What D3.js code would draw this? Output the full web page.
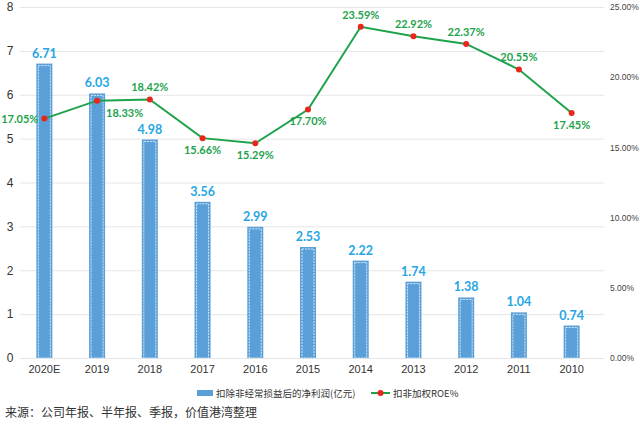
<!DOCTYPE html>
<html>
<head>
<meta charset="utf-8">
<script src="https://cdn.jsdelivr.net/npm/d3@7"></script>
<style>
  body { margin: 0; background: #fff; }
  svg { font-family: "Noto Sans CJK SC", "Noto Sans", sans-serif; }
</style>
</head>
<body>
<div id="chart"></div>
<script>
var years = ["2020E", "2019", "2018", "2017", "2016", "2015", "2014", "2013", "2012", "2011", "2010"];
var profit = [6.71, 6.03, 4.98, 3.56, 2.99, 2.53, 2.22, 1.74, 1.38, 1.04, 0.74];
var roe = [17.05, 18.33, 18.42, 15.66, 15.29, 17.70, 23.59, 22.92, 22.37, 20.55, 17.45];
// where each ROE label sits relative to its point
var roePos = ["left", "belowRight", "above", "below", "below", "below", "above", "above", "above", "above", "below"];
var leftTicks = [0, 1, 2, 3, 4, 5, 6, 7, 8];
var rightTicks = [0, 5, 10, 15, 20, 25];

(function() {
  var width = 640, height = 426;
  var plotLeft = 18, plotRight = 598, plotTop = 7, plotBottom = 358;

  var svg = d3.select("#chart").append("svg")
    .attr("width", width)
    .attr("height", height);

  var x = d3.scaleBand().domain(years).range([plotLeft, plotRight]);
  var y = d3.scaleLinear().domain([0, 8]).range([plotBottom, plotTop]);
  var y2 = d3.scaleLinear().domain([0, 25]).range([plotBottom, plotTop]);

  // grid
  svg.append("g").selectAll("line")
    .data(leftTicks)
    .enter().append("line")
    .attr("x1", 20).attr("x2", 604)
    .attr("y1", d => y(d) + 0.5).attr("y2", d => y(d) + 0.5)
    .attr("stroke", "#e6e6e6");

  // left axis
  var yAxis = d3.axisLeft(y).tickValues(leftTicks).tickSize(0).tickPadding(0);
  svg.append("g")
    .attr("transform", "translate(10,0)")
    .call(yAxis)
    .call(g => g.select(".domain").remove())
    .selectAll("text")
    .attr("font-size", 12).attr("fill", "#333").attr("text-anchor", "middle");

  // right axis
  var y2Axis = d3.axisRight(y2).tickValues(rightTicks).tickSize(0).tickPadding(0)
    .tickFormat(d => d.toFixed(2) + "%");
  svg.append("g")
    .attr("transform", "translate(610,0)")
    .call(y2Axis)
    .call(g => g.select(".domain").remove())
    .selectAll("text")
    .attr("font-size", 8.5).attr("fill", "#444");

  // x axis
  var xAxis = d3.axisBottom(x).tickSize(0).tickPadding(0);
  svg.append("g")
    .attr("transform", "translate(0," + (plotBottom + 7) + ")")
    .call(xAxis)
    .call(g => g.select(".domain").remove())
    .selectAll("text")
    .attr("font-size", 11).attr("fill", "#333");

  // bars
  var bw = 16;
  var bars = svg.append("g").selectAll("g")
    .data(profit)
    .enter().append("g");

  bars.append("rect")
    .attr("x", (d, i) => x(years[i]) + x.bandwidth() / 2 - bw / 2)
    .attr("y", d => y(d))
    .attr("width", bw)
    .attr("height", d => plotBottom - y(d))
    .attr("fill", "#5b9fd8");

  bars.append("rect")
    .attr("x", (d, i) => x(years[i]) + x.bandwidth() / 2 - bw / 2 + 2)
    .attr("y", d => y(d) + 2)
    .attr("width", bw - 4)
    .attr("height", d => plotBottom - y(d) - 2)
    .attr("fill", "none")
    .attr("stroke", "#cfe6f7")
    .attr("stroke-width", 1)
    .attr("stroke-dasharray", "2,1");

  bars.append("text")
    .attr("x", (d, i) => x(years[i]) + x.bandwidth() / 2)
    .attr("y", d => y(d) - 6)
    .attr("text-anchor", "middle")
    .attr("font-family", "Lato")
    .attr("font-size", 12.5)
    .attr("font-weight", "bold")
    .attr("fill", "#26a6e4")
    .text(d => d.toFixed(2));

  // ROE line
  var cx = (d, i) => x(years[i]) + x.bandwidth() / 2;
  var line = d3.line()
    .x((d, i) => cx(d, i))
    .y(d => y2(d));

  svg.append("path")
    .datum(roe)
    .attr("d", line)
    .attr("fill", "none")
    .attr("stroke", "#1ea34d")
    .attr("stroke-width", 2);

  svg.append("g").selectAll("circle")
    .data(roe)
    .enter().append("circle")
    .attr("cx", cx)
    .attr("cy", d => y2(d))
    .attr("r", 3)
    .attr("fill", "#e8261c");

  svg.append("g").selectAll("text")
    .data(roe)
    .enter().append("text")
    .attr("x", (d, i) => {
      var p = roePos[i];
      if (p == "left") return cx(d, i) - 6;
      if (p == "belowRight") return cx(d, i) + 9;
      return cx(d, i);
    })
    .attr("y", (d, i) => {
      var p = roePos[i];
      if (p == "left") return y2(d) + 4;
      if (p == "above") return y2(d) - 8;
      return y2(d) + 16;
    })
    .attr("text-anchor", (d, i) => roePos[i] == "left" ? "end" : (roePos[i] == "belowRight" ? "start" : "middle"))
    .attr("font-family", "Lato")
    .attr("font-size", 11)
    .attr("font-weight", "bold")
    .attr("fill", "#1ea34d")
    .text(d => d.toFixed(2) + "%");

  // legend
  var lg = svg.append("g").attr("transform", "translate(0,393)");
  lg.append("rect").attr("x", 197).attr("y", -3).attr("width", 16).attr("height", 6).attr("fill", "#5b9fd8");
  lg.append("text").attr("x", 216).attr("y", 3.5).attr("font-size", 9.5).attr("fill", "#333")
    .text("扣除非经常损益后的净利润(亿元)");
  lg.append("line").attr("x1", 371).attr("x2", 390).attr("y1", 0).attr("y2", 0)
    .attr("stroke", "#1ea34d").attr("stroke-width", 2);
  lg.append("circle").attr("cx", 380.5).attr("cy", 0).attr("r", 3).attr("fill", "#e8261c");
  lg.append("text").attr("x", 393).attr("y", 3.5).attr("font-size", 9.5).attr("fill", "#333")
    .text("扣非加权ROE%");

  svg.append("text")
    .attr("x", 5).attr("y", 417)
    .attr("font-size", 12).attr("fill", "#333")
    .text("来源：公司年报、半年报、季报，价值港湾整理");
})();
</script>
</body>
</html>
